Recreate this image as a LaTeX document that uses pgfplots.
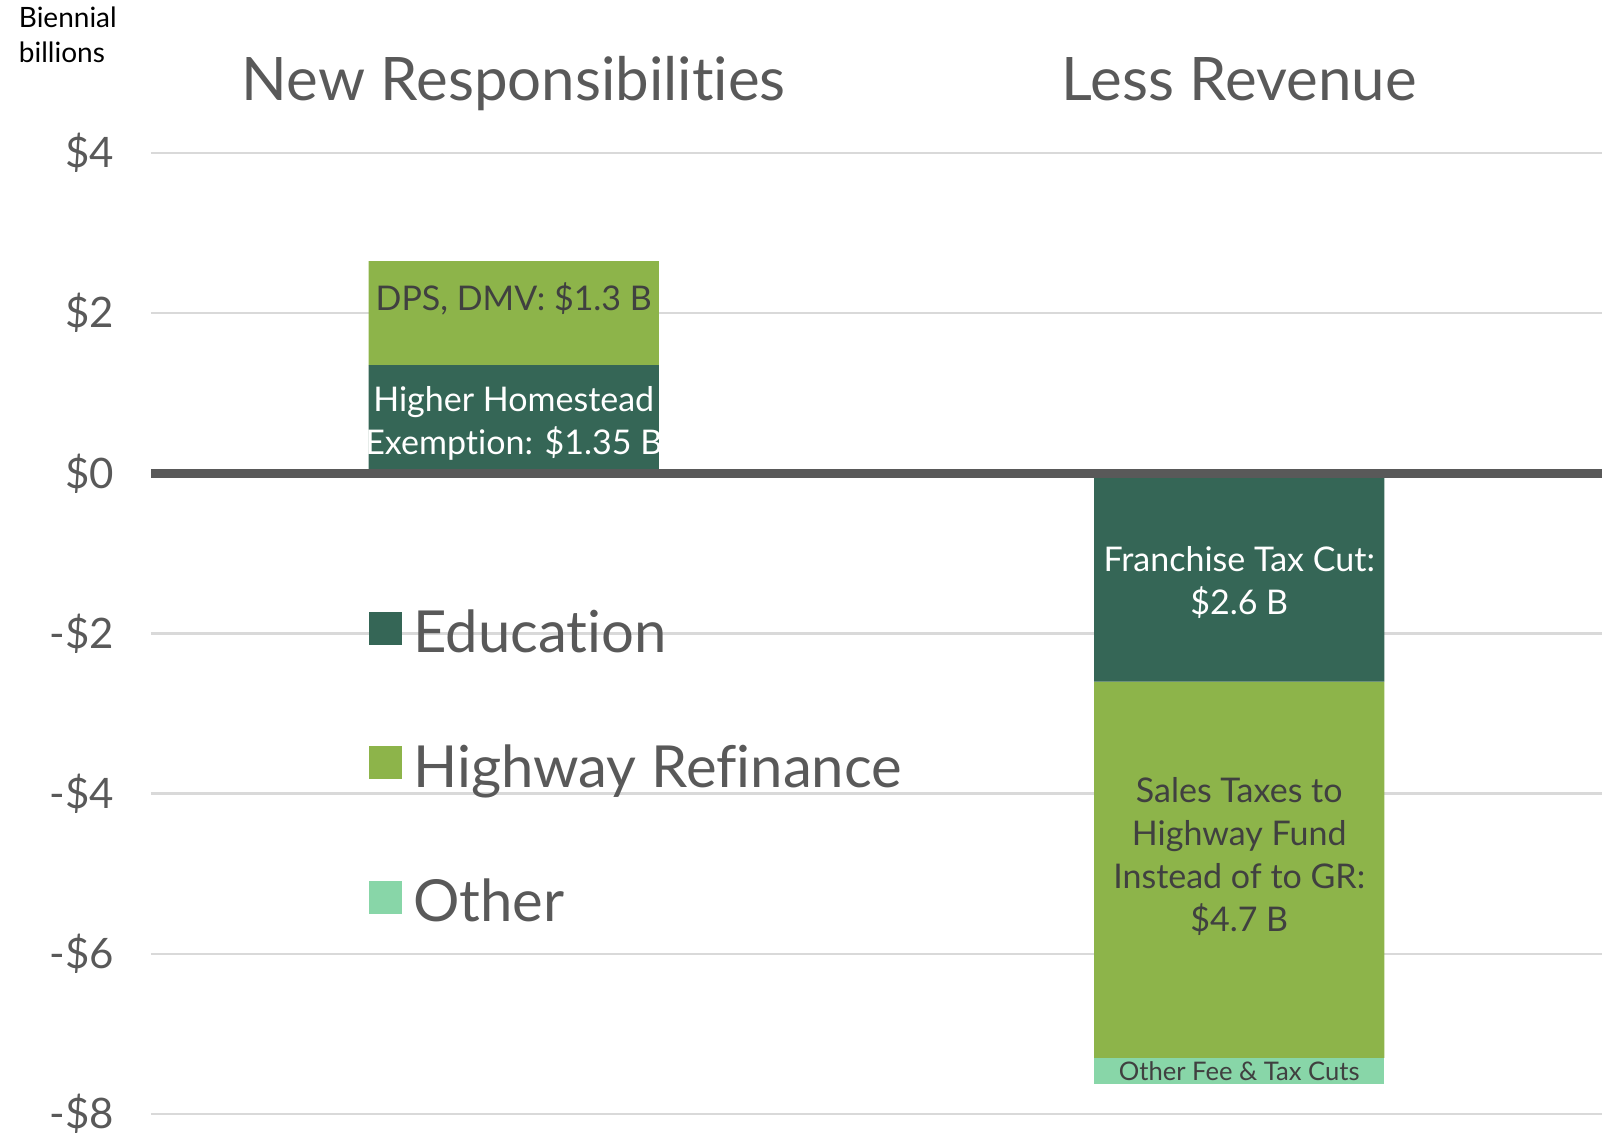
\documentclass[border=0pt]{standalone}
\usepackage{fontspec}
\setmainfont{Lato}[Ligatures=NoCommon]
\usepackage{pgfplots}
\pgfplotsset{compat=1.18}
\definecolor{edu}{RGB}{53,102,86}
\definecolor{hwy}{RGB}{141,180,74}
\definecolor{oth}{RGB}{136,214,168}
\definecolor{txtgray}{RGB}{89,89,89}
\definecolor{lbl}{RGB}{64,64,64}
\definecolor{gridgray}{RGB}{217,217,217}
\begin{document}
\begin{tikzpicture}
\begin{axis}[
  scale only axis,
  width=725.5pt, height=480.5pt,
  xmin=-0.5, xmax=1.5, ymin=-8, ymax=4,
  ybar stacked, bar width=0.4,
  clip=false,
  axis line style={draw=none},
  xtick=\empty,
  ytick={-8,-6,-4,-2,0,2,4},
  yticklabels={-\$8,-\$6,-\$4,-\$2,\$0,\$2,\$4},
  yticklabel style={font=\fontsize{21}{25}\selectfont, text=txtgray, xshift=-15pt},
  major tick length=0pt,
  ymajorgrids,
  grid style={draw=gridgray, line width=1.3pt},
  legend image code/.code={\fill[#1] (0pt,-6pt) rectangle (16.5pt,10.5pt);},
  legend style={at={(axis cs:-0.208,-3.67)}, anchor=west, draw=none, fill=none,
    font=\fontsize{29}{34}\selectfont, text=txtgray, row sep=40.5pt,
    nodes={inner xsep=5.5pt}},
  legend cell align=left,
]
\addplot[fill=edu, draw=none] coordinates {(0,1.35) (1,-2.6)};
\addplot[fill=hwy, draw=none] coordinates {(0,1.3) (1,-4.7)};
\addplot[fill=oth, draw=none] coordinates {(0,0) (1,-0.33)};
\legend{Education, Highway Refinance, Other}
\coordinate (z0) at (rel axis cs:0,0.6667);
\coordinate (z1) at (rel axis cs:1,0.6667);
\coordinate (t0) at (axis cs:0,4.65);
\coordinate (t1) at (axis cs:1,4.65);
\coordinate (bb) at (rel axis cs:-0.0913,1.152);
\coordinate (l1) at (axis cs:0,2.18);
\coordinate (l2) at (axis cs:0,0.62);
\coordinate (l3) at (axis cs:1,-1.36);
\coordinate (l4) at (axis cs:1,-4.78);
\coordinate (l5) at (axis cs:1,-7.46);
\end{axis}
\draw[txtgray, line width=4.5pt] (z0) -- (z1);
\node[font=\fontsize{30}{36}\selectfont, text=txtgray, anchor=base] at (t0) {New Responsibilities};
\node[font=\fontsize{30}{36}\selectfont, text=txtgray, anchor=base] at (t1) {Less Revenue};
\node[font=\fontsize{14}{17.5}\selectfont, align=left, anchor=north west, inner sep=0pt] at (bb) {Biennial\\billions};
\node[font=\fontsize{17}{21.5}\selectfont, text=lbl] at (l1) {DPS, DMV: \$1.3 B};
\node[font=\fontsize{17}{21.5}\selectfont, text=white, align=center] at (l2) {Higher Homestead\\Exemption: \$1.35 B};
\node[font=\fontsize{17}{21.5}\selectfont, text=white, align=center] at (l3) {Franchise Tax Cut:\\\$2.6 B};
\node[font=\fontsize{17}{21.5}\selectfont, text=lbl, align=center] at (l4) {Sales Taxes to\\Highway Fund\\Instead of to GR:\\\$4.7 B};
\node[font=\fontsize{12.8}{15}\selectfont, text=lbl] at (l5) {Other Fee \& Tax Cuts};
\pgfresetboundingbox
\path ([xshift=-75.5pt,yshift=-10.5pt]current axis.south west) rectangle ([xshift=5pt,yshift=76.5pt]current axis.north east);
\end{tikzpicture}
\end{document}
